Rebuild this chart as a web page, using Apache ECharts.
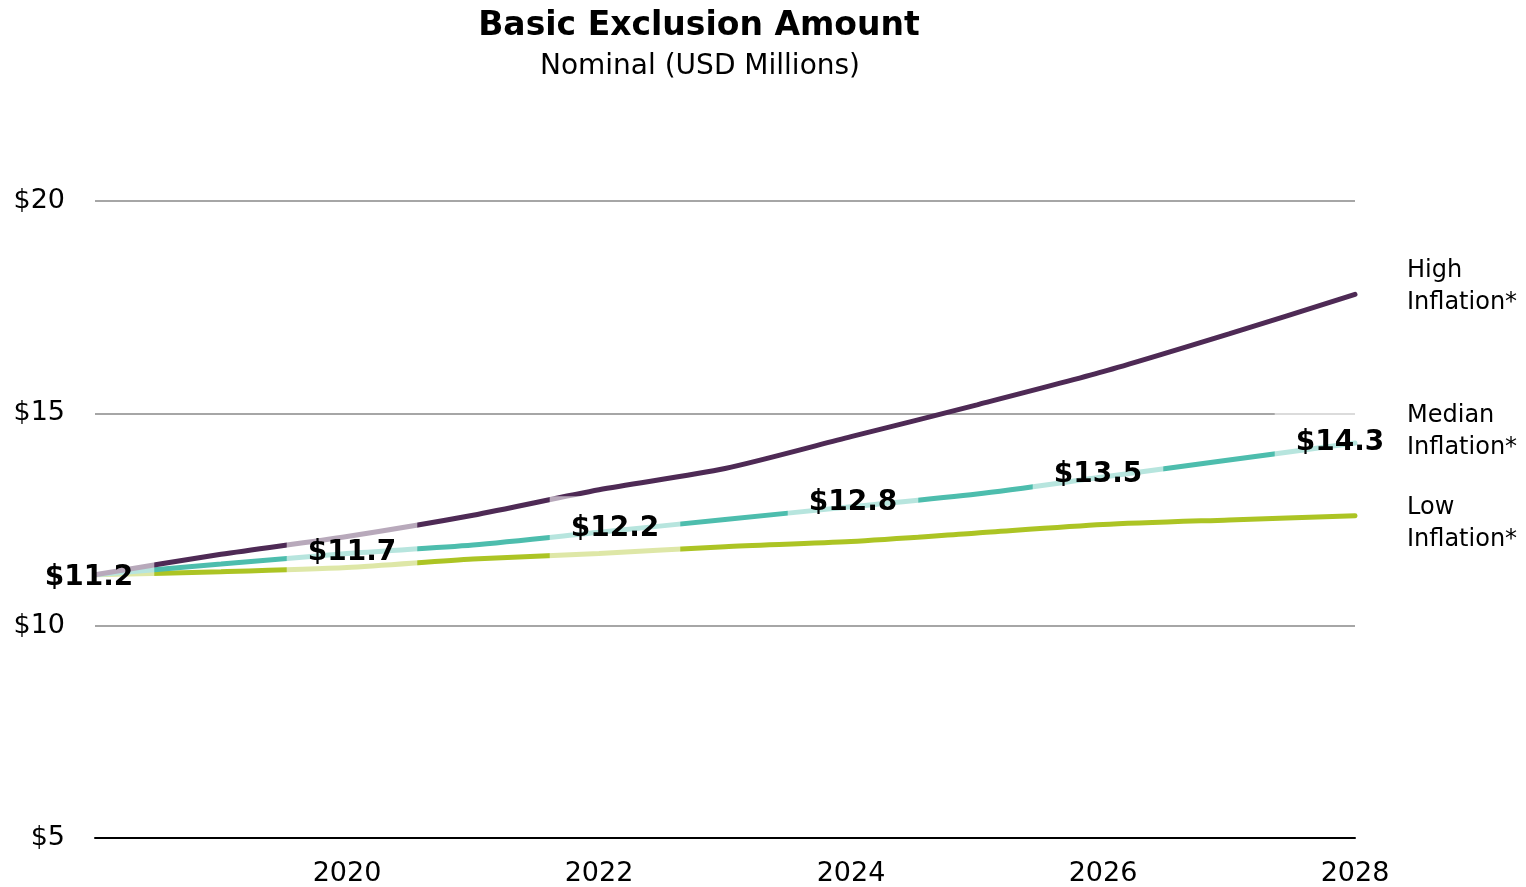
<!DOCTYPE html>
<html>
<head>
<meta charset="utf-8">
<script src="https://cdn.jsdelivr.net/npm/echarts@6/dist/echarts.min.js"></script>
<style>html,body{margin:0;padding:0;background:#fff;}#c{width:1526px;height:887px;}</style>
</head>
<body>
<div id="c"></div>
<script>
const years = [2018, 2019, 2020, 2021, 2022, 2023, 2024, 2025, 2026, 2027, 2028];
const highInflation = [11.2, 11.68, 12.1, 12.6, 13.2, 13.7, 14.45, 15.2, 15.98, 16.87, 17.8];
const medianInflation = [11.2, 11.45, 11.7, 11.9, 12.2, 12.5, 12.8, 13.1, 13.5, 13.9, 14.3];
const lowInflation = [11.2, 11.27, 11.37, 11.57, 11.7, 11.86, 11.98, 12.18, 12.38, 12.49, 12.59];
const labelYears = [2018, 2020, 2022, 2024, 2026, 2028];
const labelValues = [11.2, 11.7, 12.2, 12.8, 13.5, 14.3];
const seriesNames = ['High\nInflation*', 'Median\nInflation*', 'Low\nInflation*'];
const yTicks = [5, 10, 15, 20];

// label placement (style only)
const labelOffsets = [[-6, 3], [5, -1], [16, -4], [2, -4], [-5, -2], [-15, 0]];

const pairs = (vals) => years.map((y, i) => [y, vals[i]]);
const FONT = 'DejaVu Sans';

function lineSeries(name, vals, color, endOffset) {
  return {
    type: 'line',
    name: name,
    data: pairs(vals),
    smooth: 0.25,
    showSymbol: false,
    symbol: 'none',
    lineStyle: { color: color, width: 5, cap: 'round' },
    itemStyle: { color: color },
    z: 3,
    endLabel: {
      show: true,
      formatter: () => name,
      distance: 52,
      offset: endOffset,
      fontFamily: FONT,
      fontSize: 24,
      lineHeight: 32,
      color: '#000000',
      align: 'left'
    },
    emphasis: { disabled: true }
  };
}

const chart = echarts.init(document.getElementById('c'), null, { renderer: 'canvas' });
chart.setOption({
  animation: false,
  backgroundColor: '#fff',
  title: [
    {
      text: 'Basic Exclusion Amount',
      left: 694, top: 5, textAlign: 'center',
      textStyle: { fontFamily: FONT, fontWeight: 'bold', fontSize: 33, color: '#000000' }
    },
    {
      text: 'Nominal (USD Millions)',
      left: 695, top: 48, textAlign: 'center',
      textStyle: { fontFamily: FONT, fontWeight: 'normal', fontSize: 28, color: '#000000' }
    }
  ],
  grid: { left: 95, right: 171, top: 201, bottom: 49, containLabel: false },
  xAxis: {
    type: 'value',
    min: 2018, max: 2028, interval: 2,
    axisLine: { show: true, lineStyle: { color: '#000', width: 2 } },
    axisTick: { show: false },
    splitLine: { show: false },
    axisLabel: {
      showMinLabel: false,
      margin: 22,
      fontFamily: FONT, fontSize: 27, color: '#000000',
      formatter: (v) => String(v)
    }
  },
  yAxis: {
    type: 'value',
    min: yTicks[0], max: yTicks[yTicks.length - 1], interval: 5,
    axisLine: { show: false },
    axisTick: { show: false },
    splitLine: { show: true, lineStyle: { color: '#a6a6a6', width: 2 } },
    axisLabel: {
      margin: 30,
      fontFamily: FONT, fontSize: 27, color: '#000000',
      formatter: (v) => '$' + v
    }
  },
  series: [
    lineSeries(seriesNames[2], lowInflation, '#acc424', [0, 8]),
    lineSeries(seriesNames[1], medianInflation, '#4dbdad', [0, -11]),
    lineSeries(seriesNames[0], highInflation, '#4e2a55', [0, -8]),
    {
      type: 'scatter',
      data: labelYears.map((y, i) => ({
        value: [y, labelValues[i]],
        label: { offset: labelOffsets[i] }
      })),
      symbol: 'circle',
      symbolSize: 0.1,
      itemStyle: { color: '#ffffff', opacity: 1 },
      z: 10,
      silent: true,
      label: {
        show: true,
        position: 'inside',
        formatter: (p) => '$' + p.value[1].toFixed(1),
        fontFamily: FONT,
        fontWeight: 'bold',
        fontSize: 28,
        lineHeight: 28,
        color: '#000000',
        opacity: 1,
        textBorderWidth: 0,
        backgroundColor: 'rgba(255,255,255,0.6)',
        padding: [22, 21, 14, 21]
      },
      emphasis: { disabled: true }
    }
  ]
});
</script>
</body>
</html>
